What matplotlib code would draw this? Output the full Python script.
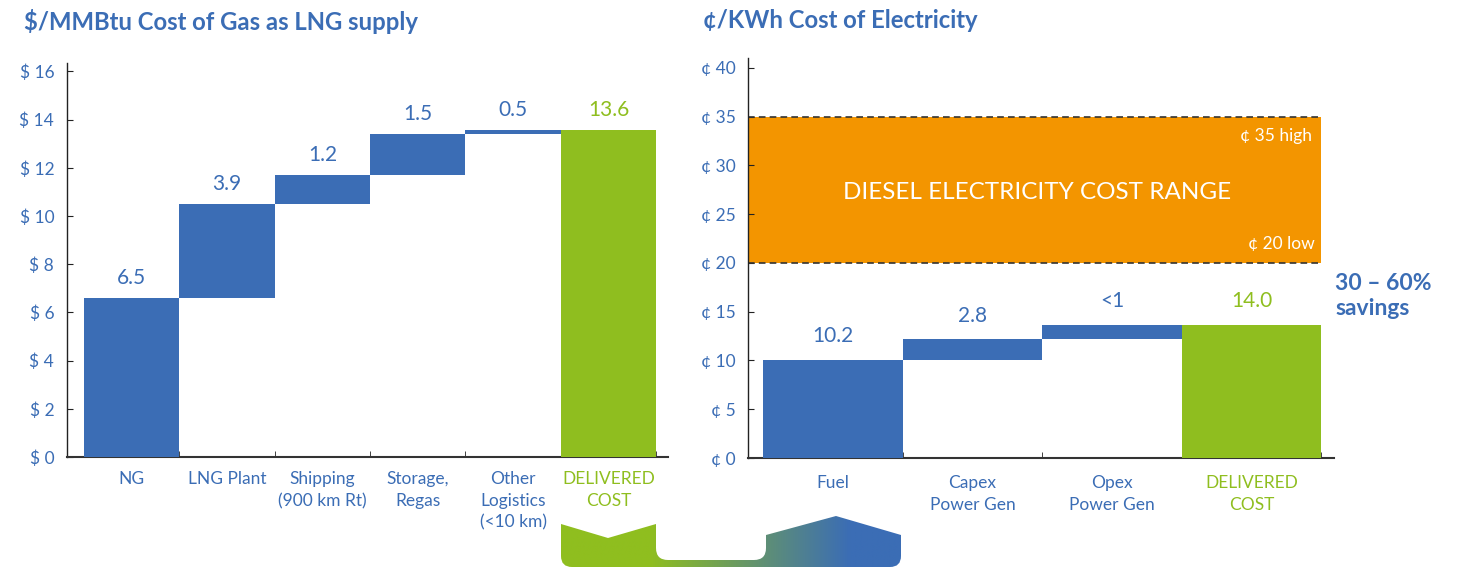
import numpy as np
import matplotlib
matplotlib.use("Agg")
import matplotlib.pyplot as plt
from matplotlib.path import Path
from matplotlib.patches import PathPatch
from matplotlib.colors import to_rgb

plt.rcParams['font.family'] = ['Lato', 'DejaVu Sans']

BLUE = "#3b6db5"
GREEN = "#8fbe1f"
ORANGE = "#f39500"

# --- données : coût du gaz (GNL) ---
gas_cats = ["NG", "LNG Plant", "Shipping\n(900 km Rt)", "Storage,\nRegas",
            "Other\nLogistics\n(<10 km)", "DELIVERED\nCOST"]
gas_steps = [6.6, 3.9, 1.2, 1.7, 0.15]
gas_labels = ["6.5", "3.9", "1.2", "1.5", "0.5", "13.6"]
gas_ticks = [0, 2, 4, 6, 8, 10, 12, 14, 16]

# --- données : coût de l'électricité ---
elec_cats = ["Fuel", "Capex\nPower Gen", "Opex\nPower Gen", "DELIVERED\nCOST"]
elec_steps = [10.05, 2.1, 1.5]
elec_labels = ["10.2", "2.8", "<1", "14.0"]
elec_ticks = [0, 5, 10, 15, 20, 25, 30, 35, 40]
diesel_low = 20
diesel_high = 35


def waterfall(ax, cats, steps, labels, offset, fs):
    steps = np.array(steps)
    tops = np.cumsum(steps)
    n = len(steps)
    x = np.arange(n + 1)
    ax.bar(x[:n], steps, bottom=tops - steps, width=1.0, color=BLUE, zorder=3)
    ax.bar(x[n], tops[-1], width=1.0, color=GREEN, zorder=3)
    heights = list(tops) + [tops[-1]]
    for xi, h, lab in zip(x, heights, labels):
        c = GREEN if xi == n else BLUE
        ax.annotate(lab, (xi, h), xytext=(0, offset), textcoords="offset points",
                    ha="center", va="center", color=c, fontsize=fs)
    ax.set_xticks(x)
    ax.set_xticklabels(cats, fontsize=12.5, linespacing=1.45)
    for t in ax.get_xticklabels():
        t.set_color(BLUE)
    ax.get_xticklabels()[-1].set_color(GREEN)
    ax.set_xticks(x + 0.5, minor=True)
    ax.tick_params(axis="x", which="major", length=0, pad=10)
    ax.tick_params(axis="x", which="minor", direction="in", length=4, color="#222")
    ax.tick_params(axis="y", direction="in", length=4, colors="#222", labelcolor=BLUE,
                   labelsize=12.5, pad=9)
    for s in ["top", "right"]:
        ax.spines[s].set_visible(False)
    ax.spines["left"].set_color("#222")
    ax.spines["left"].set_linewidth(1)
    ax.spines["bottom"].set_color("#333")
    ax.spines["bottom"].set_linewidth(1.5)


fig = plt.figure(figsize=(14.6, 5.72), dpi=100)

# Graphique de gauche
ax1 = fig.add_axes([0.0457, 0.2010, 0.4116, 0.6893])
waterfall(ax1, gas_cats, gas_steps, gas_labels, 14.5, 15)
ax1.set_xlim(-0.68, 5.62)
ax1.set_ylim(0, 16.36)
ax1.set_yticks(gas_ticks)
ax1.set_yticklabels(["$ %d" % v for v in gas_ticks])

# Graphique de droite
ax2 = fig.add_axes([0.5123, 0.1993, 0.4014, 0.6993])
waterfall(ax2, elec_cats, elec_steps, elec_labels, 17, 15)
ax2.set_xlim(-0.61, 3.59)
ax2.set_ylim(0, 41.0)
ax2.set_yticks(elec_ticks)
ax2.set_yticklabels(["¢ %d" % v for v in elec_ticks])
ax2.tick_params(axis="x", which="major", pad=12)

band_x = [-0.61, 3.5]
ax2.fill_between(band_x, diesel_low, diesel_high, color=ORANGE, lw=0, zorder=1)
ax2.hlines([diesel_low, diesel_high], band_x[0], band_x[1], colors="#333",
           linestyles=(0, (4, 2.5)), lw=1.2, zorder=2)
ax2.text(1.46, 27.2, "DIESEL ELECTRICITY COST RANGE", color="white", fontsize=17.5,
         ha="center", va="center", zorder=4)
ax2.text(3.43, 33, "¢ %d high" % diesel_high, color="white", fontsize=12.5,
         ha="right", va="center", zorder=4)
ax2.text(3.45, 21.9, "¢ %d low" % diesel_low, color="white", fontsize=12.5,
         ha="right", va="center", zorder=4)

# Titres
fig.text(24 / 1460, 1 - 21 / 572, "$/MMBtu Cost of Gas as LNG supply", color=BLUE,
         fontsize=17.2, fontweight="bold", va="center", ha="left")
fig.text(703 / 1460, 1 - 21 / 572, "¢/KWh Cost of Electricity", color=BLUE,
         fontsize=17.2, fontweight="bold", va="center", ha="left")
fig.text(1335 / 1460, 1 - 296 / 572, "30 – 60%\nsavings", color=BLUE, fontsize=16.5,
         fontweight="bold", va="center", ha="left", linespacing=1.25)

# Flèche décorative en bas (dégradé vert -> bleu)
ov = fig.add_axes([0, 0, 1, 1], zorder=10)
ov.set_xlim(0, 1460)
ov.set_ylim(572, 0)
ov.axis("off")
verts = [(561, 524), (608, 538), (656, 524), (656, 548), (656, 560), (668, 560),
         (754, 560), (766, 560), (766, 548), (766, 535), (836, 516), (901, 535),
         (901, 556), (901, 567), (890, 567), (572, 567), (561, 567), (561, 556),
         (561, 524)]
codes = [Path.MOVETO, Path.LINETO, Path.LINETO, Path.LINETO, Path.CURVE3, Path.CURVE3,
         Path.LINETO, Path.CURVE3, Path.CURVE3, Path.LINETO, Path.LINETO, Path.LINETO,
         Path.LINETO, Path.CURVE3, Path.CURVE3, Path.LINETO, Path.CURVE3, Path.CURVE3,
         Path.CLOSEPOLY]
patch = PathPatch(Path(verts, codes), facecolor="none", edgecolor="none")
ov.add_patch(patch)
xs = np.linspace(561, 901, 400)
t = np.clip((xs - 650) / 200, 0, 1)[:, None]
grad = (1 - t) * np.array(to_rgb(GREEN)) + t * np.array(to_rgb(BLUE))
im = ov.imshow(grad[None, :, :], extent=(561, 901, 567, 516), aspect="auto",
               interpolation="bilinear")
im.set_clip_path(patch)

fig.savefig("out.png", dpi=100)
